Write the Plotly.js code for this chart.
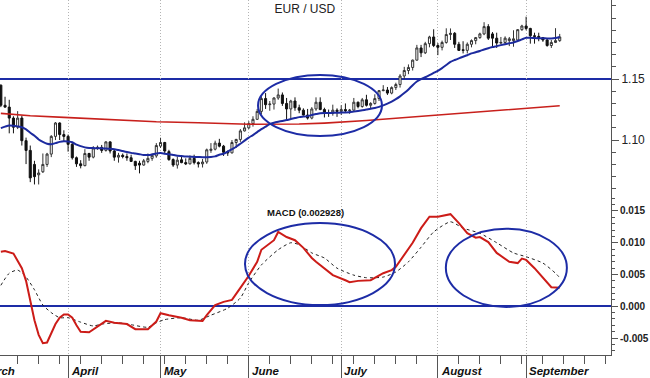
<!DOCTYPE html>
<html><head><meta charset="utf-8">
<script src="https://cdn.plot.ly/plotly-3.0.1.min.js"></script>
<style>html,body{margin:0;padding:0;background:#fff}#chart{width:650px;height:378px}</style>
</head><body><div id="chart"></div>
<script>
const dates = [
'2020-03-10','2020-03-11','2020-03-12','2020-03-13',
'2020-03-16','2020-03-17','2020-03-18','2020-03-19','2020-03-20',
'2020-03-23','2020-03-24','2020-03-25','2020-03-26','2020-03-27',
'2020-03-30','2020-03-31','2020-04-01','2020-04-02','2020-04-03',
'2020-04-06','2020-04-07','2020-04-08','2020-04-09','2020-04-10',
'2020-04-13','2020-04-14','2020-04-15','2020-04-16','2020-04-17',
'2020-04-20','2020-04-21','2020-04-22','2020-04-23','2020-04-24',
'2020-04-27','2020-04-28','2020-04-29','2020-04-30','2020-05-01',
'2020-05-04','2020-05-05','2020-05-06','2020-05-07','2020-05-08',
'2020-05-11','2020-05-12','2020-05-13','2020-05-14','2020-05-15',
'2020-05-18','2020-05-19','2020-05-20','2020-05-21','2020-05-22',
'2020-05-25','2020-05-26','2020-05-27','2020-05-28','2020-05-29',
'2020-06-01','2020-06-02','2020-06-03','2020-06-04','2020-06-05',
'2020-06-08','2020-06-09','2020-06-10','2020-06-11','2020-06-12',
'2020-06-15','2020-06-16','2020-06-17','2020-06-18','2020-06-19',
'2020-06-22','2020-06-23','2020-06-24','2020-06-25','2020-06-26',
'2020-06-29','2020-06-30','2020-07-01','2020-07-02','2020-07-03',
'2020-07-06','2020-07-07','2020-07-08','2020-07-09','2020-07-10',
'2020-07-13','2020-07-14','2020-07-15','2020-07-16','2020-07-17',
'2020-07-20','2020-07-21','2020-07-22','2020-07-23','2020-07-24',
'2020-07-27','2020-07-28','2020-07-29','2020-07-30','2020-07-31',
'2020-08-03','2020-08-04','2020-08-05','2020-08-06','2020-08-07',
'2020-08-10','2020-08-11','2020-08-12','2020-08-13','2020-08-14',
'2020-08-17','2020-08-18','2020-08-19','2020-08-20','2020-08-21',
'2020-08-24','2020-08-25','2020-08-26','2020-08-27','2020-08-28',
'2020-08-31','2020-09-01','2020-09-02','2020-09-03','2020-09-04',
'2020-09-07','2020-09-08','2020-09-09','2020-09-10','2020-09-11'];

const open = [
1.1450,1.1285,1.1270,1.1180,
1.1105,1.1180,1.0995,1.0915,1.0800,
1.0715,1.0740,1.0800,1.0885,1.1030,
1.1140,1.1045,1.1030,1.0965,1.0855,
1.0805,1.0790,1.0890,1.0860,1.0935,
1.0940,1.0915,1.0985,1.0910,1.0860,
1.0875,1.0865,1.0855,1.0825,1.0810,
1.0795,1.0825,1.0850,1.0870,1.0950,
1.0980,1.0905,1.0840,1.0795,1.0838,
1.0815,1.0805,1.0850,1.0815,1.0805,
1.0820,1.0915,1.0925,1.0975,1.0950,
1.0905,1.0895,1.0980,1.1005,1.1075,
1.1100,1.1135,1.1170,1.1235,1.1340,
1.1290,1.1295,1.1345,1.1370,1.1300,
1.1255,1.1320,1.1265,1.1245,1.1205,
1.1180,1.1255,1.1310,1.1250,1.1225,
1.1218,1.1245,1.1235,1.1250,1.1240,
1.1245,1.1310,1.1275,1.1330,1.1285,
1.1300,1.1340,1.1405,1.1410,1.1385,
1.1430,1.1455,1.1525,1.1570,1.1595,
1.1655,1.1755,1.1715,1.1790,1.1845,
1.1775,1.1760,1.1800,1.1865,1.1875,
1.1785,1.1740,1.1735,1.1785,1.1815,
1.1840,1.1870,1.1930,1.1870,1.1835,
1.1795,1.1800,1.1815,1.1815,1.1820,
1.1905,1.1935,1.1915,1.1855,1.1850,
1.1840,1.1820,1.1775,1.1800,1.1815];

const high = [
1.1455,1.1355,1.1330,1.1195,
1.1237,1.1200,1.1020,1.0955,1.0830,
1.0760,1.0890,1.0895,1.1040,1.1148,
1.1145,1.1080,1.1045,1.0985,1.0865,
1.0835,1.0925,1.0895,1.0950,1.0955,
1.0960,1.0990,1.0990,1.0925,1.0895,
1.0890,1.0890,1.0880,1.0830,1.0830,
1.0845,1.0890,1.0890,1.0975,1.1019,
1.0985,1.0920,1.0850,1.0865,1.0875,
1.0850,1.0875,1.0880,1.0825,1.0845,
1.0930,1.0975,1.0995,1.1010,1.0960,
1.0915,1.1000,1.1010,1.1090,1.1145,
1.1155,1.1195,1.1255,1.1360,1.1385,
1.1320,1.1350,1.1422,1.1390,1.1345,
1.1330,1.1350,1.1290,1.1260,1.1255,
1.1270,1.1350,1.1350,1.1265,1.1250,
1.1290,1.1260,1.1285,1.1300,1.1255,
1.1345,1.1315,1.1345,1.1371,1.1310,
1.1375,1.1410,1.1450,1.1435,1.1440,
1.1470,1.1540,1.1600,1.1620,1.1660,
1.1780,1.1780,1.1805,1.1855,1.1908,
1.1795,1.1815,1.1916,1.1915,1.1885,
1.1805,1.1810,1.1800,1.1825,1.1845,
1.1880,1.1966,1.1950,1.1885,1.1880,
1.1845,1.1850,1.1845,1.1900,1.1910,
1.1945,1.2011,1.1920,1.1880,1.1880,
1.1845,1.1830,1.1820,1.1917,1.1870];

const low = [
1.1270,1.1265,1.1055,1.1055,
1.1090,1.0955,1.0803,1.0655,1.0636,
1.0636,1.0730,1.0780,1.0860,1.1000,
1.1000,1.0990,1.0905,1.0840,1.0780,
1.0768,1.0785,1.0830,1.0850,1.0920,
1.0895,1.0905,1.0890,1.0830,1.0815,
1.0850,1.0830,1.0820,1.0755,1.0727,
1.0790,1.0810,1.0830,1.0855,1.0935,
1.0890,1.0830,1.0780,1.0766,1.0810,
1.0795,1.0800,1.0800,1.0775,1.0775,
1.0805,1.0895,1.0915,1.0940,1.0870,
1.0870,1.0890,1.0935,1.0985,1.1070,
1.1090,1.1110,1.1165,1.1210,1.1255,
1.1240,1.1250,1.1330,1.1280,1.1170,
1.1168,1.1240,1.1220,1.1200,1.1168,
1.1170,1.1240,1.1245,1.1185,1.1190,
1.1200,1.1190,1.1205,1.1230,1.1215,
1.1240,1.1260,1.1265,1.1275,1.1255,
1.1290,1.1320,1.1400,1.1370,1.1375,
1.1410,1.1430,1.1500,1.1540,1.1570,
1.1650,1.1680,1.1705,1.1760,1.1762,
1.1696,1.1735,1.1790,1.1820,1.1755,
1.1730,1.1710,1.1710,1.1760,1.1785,
1.1830,1.1860,1.1820,1.1755,1.1755,
1.1785,1.1780,1.1770,1.1765,1.1810,
1.1895,1.1900,1.1790,1.1790,1.1810,
1.1805,1.1765,1.1755,1.1795,1.1805];

const close = [
1.1285,1.1270,1.1180,1.1105,
1.1180,1.0995,1.0915,1.0690,1.0700,
1.0730,1.0800,1.0885,1.1030,1.1140,
1.1045,1.1030,1.0965,1.0855,1.0805,
1.0790,1.0890,1.0860,1.0935,1.0940,
1.0915,1.0985,1.0910,1.0860,1.0875,
1.0865,1.0855,1.0825,1.0790,1.0795,
1.0830,1.0850,1.0875,1.0955,1.0980,
1.0910,1.0840,1.0795,1.0835,1.0815,
1.0805,1.0850,1.0815,1.0805,1.0820,
1.0920,1.0925,1.0975,1.0950,1.0900,
1.0895,1.0980,1.1005,1.1075,1.1100,
1.1135,1.1170,1.1235,1.1340,1.1290,
1.1295,1.1345,1.1370,1.1300,1.1255,
1.1320,1.1265,1.1245,1.1205,1.1180,
1.1255,1.1310,1.1250,1.1220,1.1218,
1.1245,1.1235,1.1250,1.1240,1.1245,
1.1310,1.1275,1.1330,1.1285,1.1300,
1.1340,1.1405,1.1410,1.1385,1.1430,
1.1455,1.1525,1.1570,1.1595,1.1655,
1.1755,1.1715,1.1790,1.1845,1.1775,
1.1760,1.1800,1.1865,1.1875,1.1785,
1.1735,1.1735,1.1785,1.1815,1.1840,
1.1870,1.1930,1.1835,1.1835,1.1795,
1.1800,1.1835,1.1830,1.1830,1.1905,
1.1935,1.1915,1.1855,1.1850,1.1840,
1.1820,1.1775,1.1800,1.1815,1.1845];

const blueMA = [
1.1098,1.1110,1.1120,1.1118,
1.1112,1.1105,1.1088,1.1060,1.1035,
1.1005,1.0985,1.0970,1.0966,1.0975,
1.0985,1.0990,1.0988,1.0982,1.0962,
1.0950,1.0940,1.0935,1.0934,1.0933,
1.0932,1.0930,1.0928,1.0925,1.0918,
1.0910,1.0902,1.0895,1.0890,1.0884,
1.0878,1.0877,1.0882,1.0890,1.0893,
1.0888,1.0884,1.0878,1.0872,1.0869,
1.0866,1.0864,1.0862,1.0861,1.0860,
1.0860,1.0861,1.0866,1.0880,1.0888,
1.0905,1.0925,1.0945,1.0970,1.0995,
1.1020,1.1041,1.1065,1.1090,1.1110,
1.1130,1.1142,1.1150,1.1157,1.1164,
1.1172,1.1180,1.1188,1.1192,1.1196,
1.1205,1.1213,1.1220,1.1222,1.1222,
1.1223,1.1224,1.1225,1.1226,1.1228,
1.1233,1.1238,1.1244,1.1250,1.1256,
1.1263,1.1272,1.1284,1.1298,1.1315,
1.1335,1.1358,1.1385,1.1415,1.1450,
1.1480,1.1500,1.1515,1.1532,1.1550,
1.1568,1.1590,1.1615,1.1640,1.1656,
1.1670,1.1683,1.1695,1.1710,1.1720,
1.1730,1.1742,1.1753,1.1762,1.1770,
1.1778,1.1786,1.1793,1.1800,1.1812,
1.1825,1.1838,1.1838,1.1836,1.1835,
1.1834,1.1833,1.1832,1.1836,1.1845];

const redDates = ['2020-03-10','2020-03-19','2020-03-31','2020-04-10','2020-04-23','2020-04-30','2020-05-14','2020-06-01','2020-06-17','2020-06-25','2020-07-09','2020-07-17','2020-08-10','2020-09-11'];
const redMA = [1.1219,1.1199,1.1186,1.1172,1.1158,1.1150,1.1142,1.1130,1.1131,1.1139,1.1160,1.1175,1.1220,1.1281];

const macdDates = ['2020-03-10','2020-03-11','2020-03-13','2020-03-16','2020-03-17','2020-03-18','2020-03-19','2020-03-20','2020-03-23','2020-03-24','2020-03-25','2020-03-26','2020-03-27','2020-03-30','2020-03-31','2020-04-01','2020-04-02','2020-04-03','2020-04-06','2020-04-08','2020-04-10','2020-04-14','2020-04-16','2020-04-21','2020-04-23','2020-04-28','2020-04-30','2020-05-01','2020-05-05','2020-05-08','2020-05-12','2020-05-15','2020-05-18','2020-05-20','2020-05-22','2020-05-26','2020-05-28','2020-06-01','2020-06-03','2020-06-04','2020-06-09','2020-06-10','2020-06-12','2020-06-16','2020-06-18','2020-06-22','2020-06-23','2020-06-25','2020-06-29','2020-07-02','2020-07-03','2020-07-07','2020-07-10','2020-07-15','2020-07-17','2020-07-20','2020-07-22','2020-07-24','2020-07-28','2020-07-30','2020-08-03','2020-08-06','2020-08-10','2020-08-12','2020-08-14','2020-08-17','2020-08-19','2020-08-21','2020-08-26','2020-08-28','2020-08-31','2020-09-01','2020-09-03','2020-09-07','2020-09-09','2020-09-11'];
const macdVals = [0.0086,0.0087,0.0083,0.0071,0.0060,0.0040,0.0010,-0.0022,-0.0045,-0.0058,-0.0057,-0.0043,-0.0028,-0.0018,-0.0013,-0.0013,-0.0018,-0.0030,-0.0040,-0.0041,-0.0032,-0.0023,-0.0026,-0.0028,-0.0036,-0.0036,-0.0024,-0.0011,-0.0014,-0.0018,-0.0022,-0.0023,-0.0014,0.0002,0.0007,0.0010,0.0029,0.0048,0.0070,0.0089,0.0104,0.0117,0.0109,0.0104,0.0092,0.0076,0.0070,0.0060,0.0049,0.0041,0.0038,0.0040,0.0041,0.0052,0.0057,0.0062,0.0081,0.0100,0.0123,0.0141,0.0141,0.0145,0.0131,0.0115,0.0108,0.0109,0.0101,0.0084,0.0070,0.0068,0.0075,0.0073,0.0060,0.0045,0.0030,0.0029];

const sigDates = ['2020-03-10','2020-03-12','2020-03-16','2020-03-18','2020-03-20','2020-03-24','2020-03-26','2020-03-30','2020-04-01','2020-04-06','2020-04-09','2020-04-13','2020-04-17','2020-04-22','2020-04-28','2020-04-30','2020-05-04','2020-05-08','2020-05-14','2020-05-19','2020-05-25','2020-05-28','2020-06-01','2020-06-04','2020-06-10','2020-06-15','2020-06-17','2020-06-22','2020-06-25','2020-06-30','2020-07-06','2020-07-09','2020-07-15','2020-07-20','2020-07-23','2020-07-28','2020-07-31','2020-08-06','2020-08-11','2020-08-17','2020-08-21','2020-08-27','2020-09-01','2020-09-07','2020-09-10','2020-09-11'];
const sigVals = [0.0033,0.0052,0.0057,0.0046,0.0026,0.0002,-0.0010,-0.0018,-0.0018,-0.0025,-0.0031,-0.0028,-0.0026,-0.0029,-0.0033,-0.0026,-0.0021,-0.0018,-0.0022,-0.0014,-0.0003,0.0013,0.0037,0.0065,0.0089,0.0100,0.0097,0.0084,0.0076,0.0060,0.0049,0.0045,0.0046,0.0054,0.0070,0.0093,0.0117,0.0133,0.0123,0.0115,0.0100,0.0084,0.0078,0.0068,0.0052,0.0045];

const monthTicks = ['2020-04-01','2020-05-01','2020-06-01','2020-07-01','2020-08-03','2020-09-01'];
const monthLabels = ['April','May','June','July','August','September'];
const firstMonthLabel = 'March';
const weekTick0 = '2020-03-02';

const priceTicks = [1.10, 1.15];
const priceTickText = ['1.10', '1.15'];
const macdTicks = [-0.005, 0, 0.005, 0.010, 0.015];
const macdTickText = ['-0.005', '0.000', '0.005', '0.010', '0.015'];
const resistanceLevel = 1.15;

const BLUE = '#1c2a9e';
const RED = '#c8201c';
const AX = '#555';
const FONT = 'Arial, "Liberation Sans", sans-serif';

const traces = [
  {type:'candlestick', x:dates, open:open, high:high, low:low, close:close,
   xaxis:'x', yaxis:'y', whiskerwidth:0, hoverinfo:'skip', showlegend:false,
   increasing:{line:{color:'#333', width:1}, fillcolor:'#ffffff'},
   decreasing:{line:{color:'#111', width:1}, fillcolor:'#111111'}},
  {type:'scatter', mode:'lines', x:redDates, y:redMA, xaxis:'x', yaxis:'y',
   line:{color:RED, width:1.6}, hoverinfo:'skip', showlegend:false},
  {type:'scatter', mode:'lines', x:dates, y:blueMA, xaxis:'x', yaxis:'y',
   line:{color:BLUE, width:2, shape:'spline', smoothing:0.6}, hoverinfo:'skip', showlegend:false},
  {type:'scatter', mode:'lines', x:sigDates, y:sigVals, xaxis:'x', yaxis:'y2',
   line:{color:'#222', width:1, dash:'dot', shape:'spline', smoothing:0.6}, hoverinfo:'skip', showlegend:false},
  {type:'scatter', mode:'lines', x:macdDates, y:macdVals, xaxis:'x', yaxis:'y2',
   line:{color:'#cc1c18', width:2}, hoverinfo:'skip', showlegend:false}
];

const annotations = monthLabels.map((m, i) => ({
  xref:'x', yref:'paper', x:monthTicks[i], y:0, yanchor:'middle', xanchor:'left',
  yshift:-16, xshift:1, showarrow:false, text:m,
  font:{family:FONT, size:11.5, color:'#111', style:'italic', weight:'bold'}
}));
annotations.push({xref:'paper', yref:'paper', x:-0.036, y:0, yanchor:'middle', xanchor:'left',
  yshift:-16, xshift:1, showarrow:false, text:firstMonthLabel,
  font:{family:FONT, size:11.5, color:'#111', style:'italic', weight:'bold'}});
annotations.push({xref:'paper', yref:'paper', x:0.5008, y:0.401, xanchor:'center', yanchor:'middle',
  showarrow:false, text:'MACD (0.002928)', font:{family:FONT, size:9.5, color:'#111', weight:'bold'}});

const ellipse = {type:'circle', line:{color:'#1d2ca6', width:2}, fillcolor:'rgba(0,0,0,0)', layer:'above'};

const layout = {
  width:650, height:378,
  margin:{l:0, r:39, t:0, b:23, pad:0},
  paper_bgcolor:'#ffffff', plot_bgcolor:'#ffffff',
  showlegend:false,
  title:{text:'EUR / USD', font:{family:FONT, size:12, color:'#222'},
         xref:'container', yref:'container', x:0.469, xanchor:'center', y:0.976, yanchor:'middle'},
  xaxis:{type:'date', anchor:'y2',
         range:['2020-03-09 19:12', '2020-09-29 04:48'],
         rangebreaks:[{bounds:['sat','mon']}],
         rangeslider:{visible:false},
         tickmode:'array', tickvals:monthTicks, showticklabels:false,
         ticks:'outside', ticklen:22, tickwidth:1, tickcolor:AX,
         showline:true, linecolor:AX, linewidth:1,
         showgrid:true, gridcolor:'#b4b4b4', gridwidth:1, griddash:'1px,2px',
         zeroline:false,
         minor:{tick0:weekTick0, dtick:7*86400000, ticks:'outside', ticklen:8, tickwidth:1, tickcolor:AX, showgrid:false}},
  yaxis:{domain:[0.445, 1], range:[1.0533, 1.2148], side:'right', anchor:'x',
         tickmode:'array', tickvals:priceTicks, ticktext:priceTickText,
         ticks:'outside', ticklen:7, tickwidth:1, tickcolor:AX,
         tickfont:{family:FONT, size:12, color:'#222'},
         showline:true, linecolor:AX, linewidth:1, showgrid:false, zeroline:false,
         minor:{tickmode:'linear', tick0:0, dtick:0.01, ticks:'outside', ticklen:4, tickcolor:AX, showgrid:false}},
  yaxis2:{domain:[0, 0.445], range:[-0.00767, 0.0172], side:'right', anchor:'x',
         tickmode:'array', tickvals:macdTicks, ticktext:macdTickText,
         ticks:'outside', ticklen:6, tickwidth:1, tickcolor:AX,
         tickfont:{family:FONT, size:10, color:'#222', weight:'bold'},
         showline:true, linecolor:AX, linewidth:1, showgrid:false,
         zeroline:true, zerolinecolor:'#1d2ca6', zerolinewidth:2,
         minor:{tickmode:'linear', tick0:0, dtick:0.001, ticks:'outside', ticklen:3, tickcolor:AX, showgrid:false}},
  shapes:[
    {type:'line', xref:'paper', x0:0, x1:1, yref:'y', y0:resistanceLevel, y1:resistanceLevel,
     line:{color:'#1d2ca6', width:2}, layer:'below'},
    Object.assign({xref:'x', yref:'y', x0:'2020-06-03 04:48', x1:'2020-07-14 16:48', y0:1.1033, y1:1.1533}, ellipse),
    Object.assign({xref:'x', yref:'y2', x0:'2020-05-29 02:24', x1:'2020-07-17 19:12', y0:0.0002, y1:0.0131}, ellipse),
    Object.assign({xref:'x', yref:'y2', x0:'2020-08-04 21:36', x1:'2020-09-14 16:48', y0:-0.0001, y1:0.0122}, ellipse)
  ],
  annotations:annotations
};

Plotly.newPlot('chart', traces, layout, {staticPlot:true, displayModeBar:false});
</script>
</body></html>
